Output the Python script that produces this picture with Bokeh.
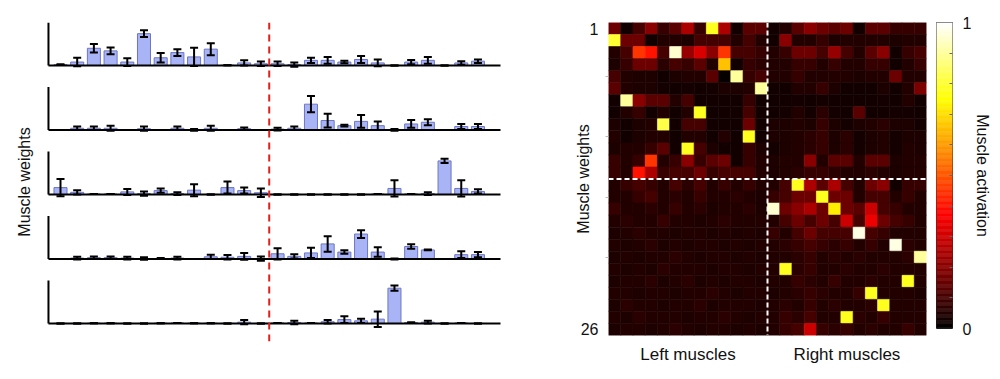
import numpy as np
from bokeh.plotting import figure
from bokeh.models import (ColumnDataSource, Range1d, Span, Whisker, TeeHead,
                          LinearColorMapper, FixedTicker)
from bokeh.layouts import row
from bokeh.transform import transform
from bokeh.embed import file_html
from bokeh.resources import INLINE

FONT = "Liberation Sans"

muscles = list(range(1, 27))

# synergy weights (mean, error) per panel, axis top = 1
w1_mean = [0.02, 0.08, 0.40, 0.34, 0.08, 0.74, 0.18, 0.30, 0.20, 0.38, 0.005, 0.06, 0.04,
           0.04, 0.02, 0.12, 0.12, 0.08, 0.14, 0.06, 0.0, 0.08, 0.12, 0.0, 0.06, 0.10]
w1_err = [0.01, 0.10, 0.10, 0.08, 0.09, 0.08, 0.11, 0.08, 0.21, 0.14, 0.0, 0.06, 0.05,
          0.05, 0.05, 0.06, 0.08, 0.03, 0.08, 0.08, 0.0, 0.05, 0.08, 0.0, 0.04, 0.04]
w2_mean = [0.0, 0.04, 0.04, 0.04, 0.0, 0.03, 0.0, 0.04, 0.0, 0.04, 0.0, 0.03, 0.0,
           0.02, 0.04, 0.60, 0.22, 0.10, 0.20, 0.10, 0.0, 0.14, 0.18, 0.0, 0.08, 0.08]
w2_err = [0.0, 0.04, 0.04, 0.06, 0.0, 0.05, 0.0, 0.04, 0.02, 0.06, 0.0, 0.03, 0.0,
          0.03, 0.04, 0.19, 0.16, 0.02, 0.15, 0.10, 0.02, 0.09, 0.07, 0.0, 0.06, 0.06]
w3_mean = [0.16, 0.05, 0.01, 0.01, 0.06, 0.02, 0.09, 0.02, 0.10, 0.0, 0.16, 0.09, 0.04,
           0.0, 0.0, 0.0, 0.0, 0.0, 0.0, 0.01, 0.14, 0.01, 0.02, 0.78, 0.14, 0.07]
w3_err = [0.20, 0.05, 0.0, 0.0, 0.07, 0.05, 0.05, 0.03, 0.14, 0.0, 0.14, 0.07, 0.10,
          0.0, 0.0, 0.0, 0.0, 0.0, 0.0, 0.0, 0.19, 0.0, 0.03, 0.05, 0.19, 0.05]
w4_mean = [0.0, 0.02, 0.03, 0.03, 0.02, 0.01, 0.01, 0.02, 0.0, 0.05, 0.04, 0.06, 0.01,
           0.12, 0.06, 0.14, 0.35, 0.16, 0.58, 0.16, 0.0, 0.29, 0.21, 0.0, 0.10, 0.10]
w4_err = [0.0, 0.03, 0.03, 0.03, 0.03, 0.03, 0.01, 0.03, 0.0, 0.05, 0.05, 0.08, 0.05,
          0.13, 0.05, 0.12, 0.18, 0.04, 0.09, 0.11, 0.01, 0.05, 0.01, 0.0, 0.08, 0.06]
w5_mean = [0.0, 0.0, 0.005, 0.005, 0.0, 0.0, 0.005, 0.01, 0.005, 0.005, 0.0, 0.03, 0.0,
           0.01, 0.02, 0.01, 0.04, 0.09, 0.06, 0.10, 0.82, 0.02, 0.03, 0.0, 0.01, 0.0]
w5_err = [0.0, 0.0, 0.0, 0.0, 0.0, 0.0, 0.0, 0.0, 0.0, 0.0, 0.0, 0.05, 0.0,
          0.0, 0.04, 0.0, 0.04, 0.08, 0.05, 0.18, 0.06, 0.01, 0.03, 0.0, 0.0, 0.0]

# heatmap: rows = muscle weights 1..26, columns = left muscles (1-13), right muscles (14-26)
activation = [
    [0.16, 0.025, 0.10, 0.20, 0.08, 0.13, 0.25, 0.08, 0.78, 0.25, 0.025, 0.13, 0.13, 0.025, 0.05, 0.13, 0.20, 0.16, 0.13, 0.16, 0.025, 0.13, 0.13, 0.08, 0.08, 0.08],
    [0.80, 0.16, 0.16, 0.025, 0.05, 0.05, 0.04, 0.10, 0.10, 0.10, 0.05, 0.10, 0.05, 0.025, 0.20, 0.05, 0.05, 0.08, 0.04, 0.05, 0.05, 0.05, 0.05, 0.04, 0.05, 0.05],
    [0.05, 0.10, 0.45, 0.40, 0.10, 0.95, 0.22, 0.32, 0.20, 0.45, 0.10, 0.10, 0.08, 0.05, 0.08, 0.16, 0.16, 0.10, 0.22, 0.10, 0.05, 0.13, 0.20, 0.025, 0.08, 0.10],
    [0.04, 0.08, 0.16, 0.16, 0.06, 0.10, 0.08, 0.13, 0.05, 0.66, 0.025, 0.08, 0.06, 0.05, 0.05, 0.08, 0.08, 0.05, 0.08, 0.05, 0.05, 0.08, 0.08, 0.025, 0.05, 0.08],
    [0.10, 0.05, 0.04, 0.04, 0.025, 0.04, 0.05, 0.05, 0.13, 0.01, 0.90, 0.08, 0.10, 0.05, 0.05, 0.08, 0.05, 0.05, 0.05, 0.05, 0.04, 0.05, 0.05, 0.16, 0.05, 0.05],
    [0.13, 0.05, 0.04, 0.04, 0.03, 0.025, 0.03, 0.025, 0.03, 0.04, 0.04, 0.05, 0.90, 0.025, 0.025, 0.05, 0.05, 0.08, 0.04, 0.025, 0.025, 0.025, 0.04, 0.025, 0.05, 0.18],
    [0.025, 0.90, 0.20, 0.13, 0.13, 0.05, 0.10, 0.025, 0.025, 0.025, 0.025, 0.08, 0.025, 0.025, 0.025, 0.03, 0.025, 0.03, 0.025, 0.025, 0.025, 0.025, 0.03, 0.025, 0.05, 0.025],
    [0.025, 0.05, 0.08, 0.025, 0.05, 0.025, 0.05, 0.78, 0.025, 0.025, 0.025, 0.10, 0.025, 0.025, 0.03, 0.05, 0.03, 0.06, 0.03, 0.025, 0.13, 0.025, 0.025, 0.03, 0.03, 0.025],
    [0.04, 0.025, 0.04, 0.05, 0.82, 0.025, 0.10, 0.10, 0.025, 0.025, 0.025, 0.16, 0.025, 0.04, 0.04, 0.05, 0.04, 0.08, 0.04, 0.03, 0.04, 0.05, 0.06, 0.04, 0.04, 0.03],
    [0.05, 0.025, 0.04, 0.05, 0.05, 0.025, 0.05, 0.05, 0.025, 0.05, 0.025, 0.78, 0.025, 0.04, 0.04, 0.05, 0.06, 0.08, 0.04, 0.06, 0.03, 0.04, 0.05, 0.03, 0.04, 0.04],
    [0.04, 0.05, 0.05, 0.08, 0.13, 0.025, 0.78, 0.10, 0.04, 0.025, 0.025, 0.08, 0.04, 0.03, 0.04, 0.05, 0.06, 0.08, 0.04, 0.06, 0.03, 0.04, 0.05, 0.03, 0.05, 0.04],
    [0.08, 0.05, 0.08, 0.45, 0.05, 0.08, 0.20, 0.08, 0.13, 0.16, 0.025, 0.08, 0.05, 0.04, 0.05, 0.05, 0.20, 0.05, 0.13, 0.13, 0.05, 0.13, 0.13, 0.04, 0.05, 0.05],
    [0.08, 0.05, 0.40, 0.25, 0.08, 0.10, 0.10, 0.16, 0.08, 0.10, 0.10, 0.10, 0.05, 0.04, 0.05, 0.06, 0.08, 0.08, 0.06, 0.05, 0.05, 0.06, 0.05, 0.04, 0.05, 0.05],
    [0.05, 0.08, 0.10, 0.08, 0.05, 0.10, 0.06, 0.10, 0.05, 0.08, 0.05, 0.08, 0.05, 0.05, 0.10, 0.78, 0.25, 0.13, 0.25, 0.10, 0.05, 0.16, 0.20, 0.025, 0.08, 0.08],
    [0.05, 0.05, 0.08, 0.10, 0.05, 0.06, 0.05, 0.08, 0.05, 0.05, 0.06, 0.05, 0.04, 0.08, 0.10, 0.16, 0.16, 0.78, 0.16, 0.16, 0.05, 0.10, 0.10, 0.05, 0.08, 0.05],
    [0.08, 0.05, 0.05, 0.06, 0.05, 0.08, 0.05, 0.06, 0.04, 0.05, 0.05, 0.06, 0.04, 0.95, 0.16, 0.20, 0.25, 0.16, 0.72, 0.16, 0.13, 0.30, 0.10, 0.08, 0.05, 0.05],
    [0.05, 0.06, 0.05, 0.05, 0.08, 0.05, 0.05, 0.04, 0.05, 0.06, 0.05, 0.05, 0.05, 0.05, 0.10, 0.16, 0.10, 0.16, 0.10, 0.30, 0.10, 0.35, 0.16, 0.10, 0.08, 0.05],
    [0.04, 0.05, 0.06, 0.05, 0.05, 0.04, 0.05, 0.05, 0.04, 0.05, 0.04, 0.05, 0.04, 0.08, 0.05, 0.10, 0.16, 0.10, 0.10, 0.10, 0.97, 0.10, 0.08, 0.05, 0.05, 0.05],
    [0.05, 0.04, 0.05, 0.06, 0.04, 0.05, 0.04, 0.05, 0.05, 0.04, 0.05, 0.04, 0.05, 0.05, 0.06, 0.08, 0.10, 0.08, 0.06, 0.08, 0.05, 0.08, 0.05, 0.97, 0.06, 0.05],
    [0.04, 0.05, 0.04, 0.05, 0.05, 0.06, 0.05, 0.04, 0.05, 0.05, 0.04, 0.05, 0.04, 0.05, 0.05, 0.06, 0.08, 0.05, 0.06, 0.05, 0.06, 0.05, 0.05, 0.05, 0.06, 0.90],
    [0.05, 0.04, 0.05, 0.04, 0.06, 0.05, 0.05, 0.05, 0.04, 0.05, 0.05, 0.04, 0.05, 0.05, 0.78, 0.06, 0.08, 0.05, 0.05, 0.06, 0.05, 0.05, 0.06, 0.05, 0.05, 0.05],
    [0.04, 0.05, 0.05, 0.06, 0.04, 0.05, 0.06, 0.04, 0.05, 0.04, 0.05, 0.05, 0.04, 0.05, 0.05, 0.08, 0.06, 0.05, 0.08, 0.05, 0.05, 0.06, 0.05, 0.05, 0.78, 0.05],
    [0.05, 0.05, 0.04, 0.05, 0.05, 0.04, 0.05, 0.05, 0.06, 0.05, 0.04, 0.05, 0.05, 0.04, 0.05, 0.06, 0.08, 0.06, 0.05, 0.05, 0.08, 0.78, 0.05, 0.05, 0.05, 0.04],
    [0.04, 0.06, 0.05, 0.05, 0.04, 0.05, 0.05, 0.06, 0.04, 0.05, 0.05, 0.05, 0.04, 0.05, 0.06, 0.05, 0.08, 0.05, 0.06, 0.05, 0.05, 0.06, 0.78, 0.05, 0.05, 0.05],
    [0.05, 0.04, 0.06, 0.05, 0.05, 0.05, 0.04, 0.05, 0.05, 0.06, 0.05, 0.04, 0.05, 0.05, 0.08, 0.06, 0.10, 0.05, 0.05, 0.78, 0.06, 0.05, 0.08, 0.05, 0.05, 0.05],
    [0.04, 0.05, 0.05, 0.04, 0.05, 0.06, 0.05, 0.04, 0.05, 0.05, 0.04, 0.05, 0.04, 0.05, 0.08, 0.10, 0.30, 0.08, 0.06, 0.08, 0.05, 0.06, 0.05, 0.05, 0.08, 0.05],
]

row_ticks = [1, 26]
group_labels = ["Left muscles", "Right muscles"]


# ---------- hot colormap ----------
def hot_palette(n=256):
    n1 = int(3 * n / 8)
    n2 = n1
    cols = []
    for i in range(n):
        r = min(1.0, (i + 1) / n1)
        g = 0.0 if i < n1 else min(1.0, (i - n1 + 1) / n2)
        b = 0.0 if i < n1 + n2 else (i - n1 - n2 + 1) / (n - n1 - n2)
        cols.append("#%02x%02x%02x" % (int(r * 255), int(g * 255), int(b * 255)))
    return cols


hot = hot_palette()

# ---------- left: synergy weights ----------
means = [w1_mean, w2_mean, w3_mean, w4_mean, w5_mean]
errs = [w1_err, w2_err, w3_err, w4_err, w5_err]
gap = 1.5
x_axis_pos = 0.28
x_axis_end = 27.35

left = figure(frame_width=456, frame_height=319, output_backend="svg", toolbar_location=None,
              x_range=Range1d(0.162, 27.47), y_range=Range1d(-6.42, 1.0),
              min_border_left=46, min_border_right=10, min_border_top=21,
              min_border_bottom=5, x_axis_type=None)
left.outline_line_color = None
left.grid.visible = False
left.yaxis.ticker = FixedTicker(ticks=[])
left.yaxis.axis_line_color = None
left.yaxis.major_tick_line_color = None
left.yaxis.minor_tick_line_color = None
left.yaxis.major_label_standoff = 0
left.yaxis.axis_label = "Muscle weights"
left.yaxis.axis_label_text_font = FONT
left.yaxis.axis_label_text_font_size = "16px"
left.yaxis.axis_label_text_font_style = "normal"
left.yaxis.axis_label_text_color = "#111111"
left.yaxis.axis_label_standoff = 14

bx, bbot, btop, bup, blow = [], [], [], [], []
ax_x0, ax_y0, ax_x1, ax_y1 = [], [], [], []
for k in range(5):
    base = -gap * k
    for i, m in enumerate(muscles):
        bx.append(m)
        bbot.append(base)
        btop.append(base + means[k][i])
        bup.append(base + means[k][i] + errs[k][i])
        blow.append(base + means[k][i] - errs[k][i])
    ax_x0 += [x_axis_pos, x_axis_pos]
    ax_y0 += [base, base]
    ax_x1 += [x_axis_pos, x_axis_end]
    ax_y1 += [base + 1.0, base]

bars = ColumnDataSource(dict(x=bx, bottom=bbot, top=btop, upper=bup, lower=blow))
left.vbar(x="x", bottom="bottom", top="top", width=0.78, source=bars,
          fill_color="#a9b4f6", line_color="#6d76c4", line_width=1)
left.add_layout(Whisker(source=bars, base="x", upper="upper", lower="lower", level="overlay",
                        line_color="black", line_width=2,
                        upper_head=TeeHead(size=8, line_width=2, line_color="black"),
                        lower_head=TeeHead(size=8, line_width=2, line_color="black")))
left.segment(x0=ax_x0, y0=ax_y0, x1=ax_x1, y1=ax_y1, line_color="black", line_width=2)
left.add_layout(Span(location=13.5, dimension="height", line_color="#e0201c",
                     line_width=2, line_dash="7 5"))

# ---------- middle: heatmap ----------
mapper = LinearColorMapper(palette=hot, low=0, high=1)
hx, hy, hv = [], [], []
for r, vals in enumerate(activation):
    for c, v in enumerate(vals):
        hx.append(c + 1)
        hy.append(r + 1)
        hv.append(v)
cells = ColumnDataSource(dict(x=hx, y=hy, v=hv))

hm = figure(frame_width=318, frame_height=313, output_backend="svg", toolbar_location=None,
            x_range=Range1d(0.5, 26.5), y_range=Range1d(26.5, 0.5),
            min_border_left=96, min_border_right=4, min_border_top=21,
            min_border_bottom=30)
hm.outline_line_color = None
hm.grid.visible = False
hm.rect(x="x", y="y", width=1, height=1, source=cells,
        fill_color=transform("v", mapper), line_color=transform("v", mapper), line_width=0.6)
hm.add_layout(Span(location=13.5, dimension="height", line_color="white",
                   line_width=2, line_dash="5 3"))
hm.add_layout(Span(location=13.5, dimension="width", line_color="white",
                   line_width=2, line_dash="5 3"))

hm.yaxis.ticker = FixedTicker(ticks=row_ticks, minor_ticks=[5, 10, 15, 20])
hm.yaxis.axis_line_color = None
hm.yaxis.major_tick_line_color = None
hm.yaxis.minor_tick_line_color = "#bbbbbb"
hm.yaxis.minor_tick_out = 3
hm.yaxis.minor_tick_in = 0
hm.yaxis.major_label_standoff = 4
hm.yaxis.major_label_text_font = FONT
hm.yaxis.major_label_text_font_size = "16px"
hm.yaxis.major_label_text_color = "#111111"
hm.yaxis.axis_label = "Muscle weights"
hm.yaxis.axis_label_text_font = FONT
hm.yaxis.axis_label_text_font_size = "16px"
hm.yaxis.axis_label_text_font_style = "normal"
hm.yaxis.axis_label_text_color = "#111111"
hm.yaxis.axis_label_standoff = -14

hm.xaxis.ticker = FixedTicker(ticks=[7, 20])
hm.xaxis.major_label_overrides = {7: group_labels[0], 20: group_labels[1]}
hm.xaxis.axis_line_color = None
hm.xaxis.major_tick_line_color = None
hm.xaxis.minor_tick_line_color = None
hm.xaxis.major_label_standoff = 3
hm.xaxis.major_label_text_font = FONT
hm.xaxis.major_label_text_font_size = "17px"
hm.xaxis.major_label_text_color = "#111111"

# ---------- right: colorbar ----------
levels = np.linspace(0, 1, len(hot) + 1)
cb = figure(frame_width=16, frame_height=306, output_backend="svg", toolbar_location=None,
            x_range=Range1d(0, 1), y_range=Range1d(0, 1), y_axis_location="right",
            min_border_left=6, min_border_right=40, min_border_top=22,
            min_border_bottom=28, x_axis_type=None)
cb.grid.visible = False
cb.quad(left=0, right=1, bottom=levels[:-1], top=levels[1:], fill_color=hot,
        line_color=hot, line_width=0.5)
cb.outline_line_color = "#333333"
cb.outline_line_width = 1
cb.yaxis.ticker = FixedTicker(ticks=[0, 1], minor_ticks=[0.1 * i for i in range(1, 10)])
cb.yaxis.axis_line_color = None
cb.yaxis.major_tick_line_color = None
cb.yaxis.minor_tick_line_color = "#666666"
cb.yaxis.minor_tick_in = 3
cb.yaxis.minor_tick_out = 0
cb.yaxis.major_label_standoff = 4
cb.yaxis.major_label_text_font = FONT
cb.yaxis.major_label_text_font_size = "16px"
cb.yaxis.major_label_text_color = "#111111"
cb.yaxis.axis_label = "Muscle activation"
cb.yaxis.axis_label_text_font = FONT
cb.yaxis.axis_label_text_font_size = "16px"
cb.yaxis.axis_label_text_font_style = "normal"
cb.yaxis.axis_label_text_color = "#111111"
cb.yaxis.axis_label_standoff = 0

layout = row(left, hm, cb)
open("out.html", "w").write(file_html(layout, INLINE))
